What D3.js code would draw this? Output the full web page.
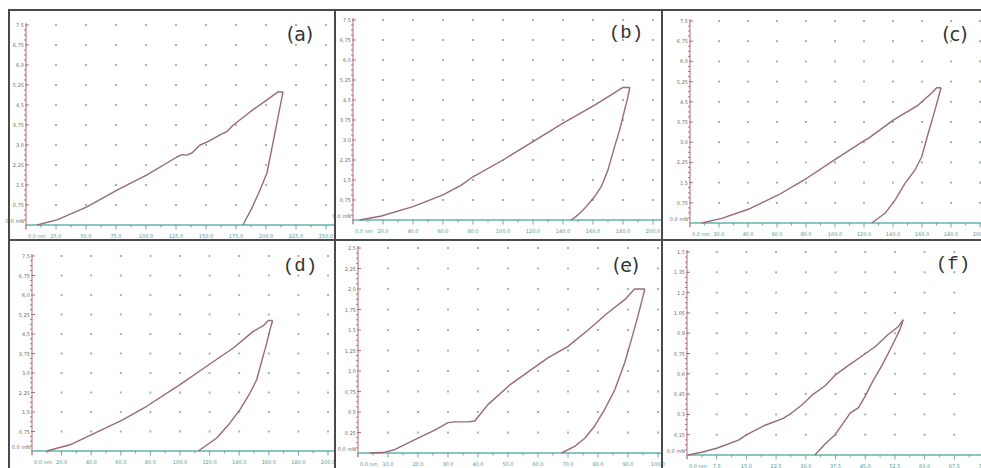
<!DOCTYPE html>
<html>
<head>
<meta charset="utf-8">
<script src="https://cdn.jsdelivr.net/npm/d3@7"></script>
<style>
  body { margin: 0; background: #fff; }
  svg { display: block; }
</style>
</head>
<body>
<div id="chart"></div>
<script>
// load-displacement curves, [depth nm, load mN]
var loadA = [[9.2,0],[25.8,0.19],[50.8,0.68],[75.8,1.31],[100.8,1.88],[125.8,2.55],[130,2.64],[134,2.62],[138.3,2.7],[145,3.0],[150.8,3.11],[161.7,3.38],[167.2,3.5],[172.8,3.75],[186.7,4.24],[200.8,4.69],[210,4.99],[214.2,4.99]];
var unloadA = [[214.2,4.99],[211.7,4.43],[205.8,3.08],[200.8,1.95],[195,1.31],[188.3,0.64],[180.8,0]];

var loadB = [[4.5,0],[18.9,0.15],[40,0.5],[60,0.94],[72.2,1.31],[80,1.62],[100,2.25],[120,2.94],[140,3.63],[161.1,4.31],[170,4.62],[180,4.97],[184.5,4.97]];
var unloadB = [[184.5,4.97],[183.3,4.62],[181.1,4.13],[177.8,3.38],[174.4,2.75],[170,1.88],[165.5,1.25],[161.1,0.88],[155.5,0.5],[150,0.19],[145.5,0]];

var loadC = [[8.1,0],[21.9,0.17],[40.2,0.51],[60.9,1.04],[80.5,1.66],[101.2,2.4],[120.7,3.08],[123,3.14],[140.2,3.82],[157.4,4.38],[167.8,4.88],[170.1,5.02],[173.1,5.02]];
var unloadC = [[173.1,5.02],[169,4.2],[164.3,3.33],[159.8,2.46],[155.2,1.97],[148.3,1.47],[141.4,0.85],[134.5,0.36],[125.3,0]];

var loadD = [[9.9,0],[25.7,0.24],[40.3,0.63],[60.6,1.18],[77.5,1.72],[100,2.55],[118,3.26],[136,3.96],[149.5,4.6],[156.3,4.82],[159.7,5.02],[162.6,5.02]];
var unloadD = [[162.6,5.02],[160.8,4.67],[158.6,4.15],[155.2,3.45],[151.8,2.74],[147.3,2.23],[140.5,1.59],[133.8,1.08],[124.8,0.5],[112.4,0]];

var loadE = [[3.9,0],[8.9,0.01],[12.2,0.04],[20,0.18],[25.6,0.28],[30,0.37],[32.2,0.38],[36.7,0.38],[38.9,0.39],[43.3,0.59],[50.6,0.83],[56.7,0.99],[63.3,1.16],[70,1.3],[76.7,1.5],[83.3,1.71],[88.9,1.87],[92.2,2.0],[95.6,2.0]];
var unloadE = [[95.6,2.0],[95,1.91],[93.3,1.67],[91.1,1.38],[88.9,1.1],[85.6,0.77],[82.2,0.53],[78.9,0.33],[75.6,0.18],[72.2,0.08],[67.8,0]];

var loadF = [[0.3,0],[3.7,0.02],[7.5,0.05],[13,0.11],[15.1,0.15],[19.7,0.22],[24.3,0.27],[26.4,0.31],[29,0.37],[31.9,0.45],[34.8,0.51],[37.4,0.59],[40.7,0.66],[44.1,0.73],[47.5,0.8],[50.8,0.89],[53.4,0.95],[54.6,1.0]];
var unloadF = [[54.6,1.0],[53.8,0.93],[52.5,0.85],[50.8,0.75],[49.2,0.66],[47,0.55],[44.9,0.43],[43.3,0.35],[41.2,0.31],[39.1,0.22],[37.4,0.15],[34.8,0.08],[32.3,0]];

// tick labels
var xTicks250 = ['0.0 nm','25.0','50.0','75.0','100.0','125.0','150.0','175.0','200.0','225.0','250.0'];
var xTicks200 = ['0.0 nm','20.0','40.0','60.0','80.0','100.0','120.0','140.0','160.0','180.0','200.0'];
var xTicks100 = ['0.0 nm','10.0','20.0','30.0','40.0','50.0','60.0','70.0','80.0','90.0','100.0'];
var xTicks75 = ['0.0 nm','7.5','15.0','22.5','30.0','37.5','45.0','52.5','60.0','67.5','75.0'];
var yTicks75 = ['0.0 mN','0,75','1,5','2,25','3,0','3,75','4,5','5,25','6,0','6,75','7,5'];
var yTicks25 = ['0.0 mN','0,25','0,5','0,75','1,0','1,25','1,5','1,75','2,0','2,25','2,5'];
var yTicks15 = ['0.0 mN','0,15','0,3','0,45','0,6','0,75','0,9','1,05','1,2','1,35','1,5'];

var xMaxes = [250, 200, 200, 200, 100, 75];
var yMaxes = [7.5, 7.5, 7.5, 7.5, 2.5, 1.5];
var panelNames = ['(a)', '(b)', '(c)', '(d)', '(e)', '(f)'];

var panels = [
    { name: panelNames[0], load: loadA, unload: unloadA, xt: xTicks250, yt: yTicks75, xMax: xMaxes[0], yMax: yMaxes[0] },
    { name: panelNames[1], load: loadB, unload: unloadB, xt: xTicks200, yt: yTicks75, xMax: xMaxes[1], yMax: yMaxes[1] },
    { name: panelNames[2], load: loadC, unload: unloadC, xt: xTicks200, yt: yTicks75, xMax: xMaxes[2], yMax: yMaxes[2] },
    { name: panelNames[3], load: loadD, unload: unloadD, xt: xTicks200, yt: yTicks75, xMax: xMaxes[3], yMax: yMaxes[3] },
    { name: panelNames[4], load: loadE, unload: unloadE, xt: xTicks100, yt: yTicks25, xMax: xMaxes[4], yMax: yMaxes[4] },
    { name: panelNames[5], load: loadF, unload: unloadF, xt: xTicks75, yt: yTicks15, xMax: xMaxes[5], yMax: yMaxes[5] }
];

// where each screenshot sits on the page
var layout = [
    { ox: 26, zeroY: 225, topY: 25, step: 30, right: 334, lx: 300, ly: 34, mono: false },
    { ox: 353, zeroY: 220, topY: 20, step: 30, right: 661, lx: 626, ly: 33, mono: true },
    { ox: 690, zeroY: 223, topY: 21, step: 29, right: 981, lx: 955, ly: 34, mono: false },
    { ox: 32, zeroY: 451, topY: 256, step: 29.6, right: 334, lx: 300, ly: 266, mono: true },
    { ox: 358, zeroY: 453, topY: 248, step: 30, right: 661, lx: 626, ly: 265, mono: false },
    { ox: 687, zeroY: 455, topY: 252, step: 29.7, right: 981, lx: 953, ly: 264, mono: true }
];

var W = 981, H = 468;
var svg = d3.select('#chart').append('svg')
    .attr('width', W)
    .attr('height', H);

svg.append('rect').attr('width', W).attr('height', H).style('fill', '#fff');

var curveColor = '#9a6a72';
var yAxisColor = '#c98a92';
var xAxisColor = '#62b3b0';
var dotColor = '#a9b3a9';

panels.forEach(function(p, i) {
    var L = layout[i];
    var x = d3.scaleLinear().domain([0, p.xMax]).range([L.ox, L.ox + 10 * L.step]);
    var y = d3.scaleLinear().domain([0, p.yMax]).range([L.zeroY, L.topY]);
    var g = svg.append('g');

    var xs = d3.range(11).map(function(k) { return p.xMax * k / 10; });
    var ys = d3.range(11).map(function(k) { return p.yMax * k / 10; });

    // dot grid
    xs.slice(1).forEach(function(xv) {
        ys.slice(1).forEach(function(yv) {
            g.append('rect')
                .attr('x', x(xv) - 1).attr('y', y(yv) - 1)
                .attr('width', 2).attr('height', 2)
                .style('fill', dotColor);
        });
    });

    // x axis
    g.append('line')
        .attr('x1', L.ox - 1).attr('x2', L.right)
        .attr('y1', L.zeroY).attr('y2', L.zeroY)
        .style('stroke', xAxisColor).style('stroke-width', 1.3);
    d3.range(21).forEach(function(k) {
        var xv = p.xMax * k / 20;
        var major = k % 2 === 0;
        g.append('line')
            .attr('x1', x(xv)).attr('x2', x(xv))
            .attr('y1', L.zeroY).attr('y2', L.zeroY + (major ? 4.5 : 2.5))
            .style('stroke', '#5a8f8c').style('stroke-width', 0.8);
    });
    xs.forEach(function(xv, k) {
        g.append('text')
            .attr('x', k === 0 ? x(xv) + 2 : x(xv))
            .attr('y', L.zeroY + 13)
            .attr('text-anchor', k === 0 ? 'start' : 'middle')
            .style('font-family', 'DejaVu Sans, sans-serif')
            .style('font-size', '5px')
            .style('fill', '#4f9a92')
            .text(p.xt[k]);
    });

    // y axis
    g.append('line')
        .attr('x1', L.ox).attr('x2', L.ox)
        .attr('y1', L.zeroY + 4).attr('y2', L.topY - 2)
        .style('stroke', yAxisColor).style('stroke-width', 1.3);
    d3.range(41).forEach(function(k) {
        var yv = p.yMax * k / 40;
        var major = k % 4 === 0;
        if (k === 0) return;
        g.append('line')
            .attr('x1', major ? L.ox - 1 : L.ox - 2).attr('x2', major ? L.ox + 3 : L.ox)
            .attr('y1', y(yv)).attr('y2', y(yv))
            .style('stroke', '#a0505c').style('stroke-width', 0.8);
    });
    ys.forEach(function(yv, k) {
        g.append('text')
            .attr('x', L.ox - 2)
            .attr('y', k === 0 ? y(yv) - 2 : y(yv) + 2)
            .attr('text-anchor', 'end')
            .style('font-family', 'DejaVu Sans, sans-serif')
            .style('font-size', '5px')
            .style('fill', '#6f6a6a')
            .text(p.yt[k]);
    });

    // curves
    var line = d3.line()
        .x(function(d) { return x(d[0]); })
        .y(function(d) { return y(d[1]); });
    [p.load, p.unload].forEach(function(data) {
        g.append('path')
            .datum(data)
            .attr('d', line)
            .style('fill', 'none')
            .style('stroke', curveColor)
            .style('stroke-width', 1.4)
            .style('stroke-linejoin', 'round');
    });

    // panel tag
    g.append('text')
        .attr('x', L.lx)
        .attr('y', L.ly)
        .attr('text-anchor', 'middle')
        .attr('dominant-baseline', 'central')
        .style('font-family', L.mono ? 'Liberation Mono, monospace' : 'DejaVu Sans, sans-serif')
        .style('font-size', '19px')
        .style('fill', '#333')
        .text(p.name);
});

// frame between the screenshots
var frame = svg.append('g')
    .style('stroke', '#4a4a4a')
    .style('stroke-width', 2);
frame.append('line').attr('x1', 8).attr('x2', W).attr('y1', 10).attr('y2', 10);
frame.append('line').attr('x1', 9).attr('x2', 9).attr('y1', 10).attr('y2', H);
frame.append('line').attr('x1', 335).attr('x2', 335).attr('y1', 10).attr('y2', H);
frame.append('line').attr('x1', 662).attr('x2', 662).attr('y1', 10).attr('y2', H);
frame.append('line').attr('x1', 8).attr('x2', W).attr('y1', 240).attr('y2', 240);
</script>
</body>
</html>
